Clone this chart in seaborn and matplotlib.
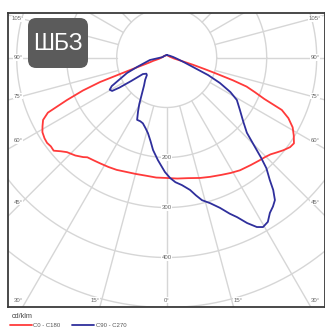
import numpy as np
import pandas as pd
import seaborn as sns
import matplotlib.pyplot as plt
from matplotlib.patches import FancyBboxPatch

# luminous intensity, cd/klm, gamma in degrees from nadir (signed)
red_gamma = [-180, -100, -90, -80, -76, -74, -72.8, -71.5, -70.5, -69.8, -68.5, -66.9, -65.1, -63.2,
             -61, -59, -56.5, -54.5, -52.5, -50.5, -48.5, -46.5, -43, -40, -38.5, -35, -32, -28, -24,
             -20, -15, -10, -5, 0, 5, 10, 15.5, 20, 25, 29, 33, 38, 42, 44.7, 47, 49, 51.5, 54, 56,
             58.5, 61, 63.5, 65.5, 67, 68.5, 70, 71, 72, 73, 74.5, 77, 82, 90, 100, 180]
red_int = [5, 8, 10, 16, 28, 35, 45, 67, 99, 142, 180, 217, 262, 277,
           284, 290, 293, 294, 292, 293, 283, 275, 268, 260, 255, 252, 250, 248, 246,
           243, 241, 240, 241, 241, 243, 245, 250, 254, 259, 264, 269, 273, 277, 280, 284, 290, 298, 305, 307,
           298, 288, 272, 253, 212, 190, 170, 140, 105, 80, 55, 30, 15, 10, 7, 5]

blue_gamma = [-180, -120, -96, -81.5, -72.3, -68.7, -64.5, -62.5, -60.5, -58.5, -57.5, -56.5, -55.2,
              -51.5, -48.4, -44, -39, -34.8, -30.5, -28, -25.4, -22.5, -19.9, -16.5, -13.9, -11, -8.4,
              -4.9, -0.9, 1.6, 4, 6.8, 10, 12, 13.9, 16.6, 19.5, 22, 23.8, 25.9, 28, 29.6, 31.6, 33.6,
              35.5, 37.2, 38.8, 40.1, 42, 43.3, 45, 46.8, 50, 54.4, 58.8, 61.5, 64.4, 67, 70.1, 75, 82,
              94.5, 120, 180]
blue_int = [5, 6, 8, 34, 62, 85, 108, 124, 131, 128, 112, 85, 58,
            52, 53, 62, 72, 86, 108, 122, 138, 138, 140, 148, 156, 170, 187,
            206, 229, 241, 250, 257, 269, 282, 294, 304, 319, 337, 349, 368, 384, 390, 386, 373,
            366, 358, 340, 320, 298, 275, 245, 220, 200, 180, 164, 145, 118, 90, 56, 35, 22,
            13, 7, 5]

series_names = ['C0 - C180', 'C90 - C270']
series_colors = ['#ff3a3a', '#2f2f9c']
ring_values = [100, 200, 300, 400, 500]
ring_labels = [200, 300, 400]
angle_labels = [105, 90, 75, 60, 45, 30, 15, 0]

sns.set_style('white')
plt.rcParams['font.family'] = ['Liberation Sans', 'DejaVu Sans']

frames = []
for name, g, val in [(series_names[0], red_gamma, red_int), (series_names[1], blue_gamma, blue_int)]:
    g = np.radians(np.array(g, dtype=float))
    val = np.array(val, dtype=float)
    frames.append(pd.DataFrame({'x': val * np.sin(g), 'y': -val * np.cos(g), 'series': name}))
df = pd.concat(frames, ignore_index=True)

W, H = 325, 329
fig = plt.figure(figsize=(W / 100, H / 100), dpi=100)
ax = fig.add_axes([8 / W, 22 / H, 316.5 / W, 294 / H])
xmin, xmax, ymin, ymax = -317.4, 315.6, -499, 89
ax.set_xlim(xmin, xmax)
ax.set_ylim(ymin, ymax)
ax.set_aspect('equal')

grid_c = '#d6d6d6'
t = np.linspace(0, 2 * np.pi, 400)
for r in ring_values:
    ax.plot(r * np.cos(t), r * np.sin(t), color=grid_c, lw=1.0, zorder=1)
for a in range(0, 360, 15):
    ar = np.radians(a)
    ax.plot([100 * np.sin(ar), 700 * np.sin(ar)], [-100 * np.cos(ar), -700 * np.cos(ar)],
            color=grid_c, lw=1.0, zorder=1)

lab_kw = dict(fontsize=4.3, color='#666666', ha='center', va='center', zorder=3,
              bbox=dict(facecolor='white', edgecolor='none', pad=0.4))
for r in ring_labels:
    ax.text(0, -r, str(r), **lab_kw)

# angle labels where the rays meet the frame
side_x = 297
bottom_y = -485
for a in angle_labels:
    ar = np.radians(a)
    for s in ([-1, 1] if a else [1]):
        dx, dy = s * np.sin(ar), -np.cos(ar)
        if dy < 0 and abs(bottom_y / dy) * abs(dx) <= side_x:
            k = bottom_y / dy
            px, py = np.clip(1.1 * k * dx, -side_x, side_x), bottom_y
        else:
            k = (side_x - 8) / abs(dx)
            px, py = s * side_x, k * dy
        ax.text(px, py, f'{a}°', **lab_kw)

sns.lineplot(data=df, x='x', y='y', hue='series', palette=series_colors, sort=False,
             estimator=None, lw=1.3, ax=ax, legend=False, zorder=4)

ax.set_xlabel('')
ax.set_ylabel('')
ax.set_xticks([])
ax.set_yticks([])
for sp in ax.spines.values():
    sp.set_color('#3a3a3a')
    sp.set_linewidth(1.3)

# badge
badge = FancyBboxPatch((28 / W, 1 - 68 / H), 60 / W, 50 / H, transform=fig.transFigure,
                       boxstyle='round,pad=0,rounding_size=0.025', facecolor='#5b5b5b',
                       edgecolor='none', zorder=10)
fig.patches.append(badge)
fig.text(58 / W, 1 - 43.5 / H, 'ШБЗ', color='white', fontsize=16.5, ha='center', va='center', zorder=11)

fig.text(12 / W, 1 - 317 / H, 'cd/klm', fontsize=5.2, color='#444444', va='center')
handles = [plt.Line2D([], [], color=c, lw=1.3) for c in series_colors]
fig.legend(handles, series_names, loc='center left', bbox_to_anchor=(10 / W, 1 - 325.5 / H),
           ncol=2, fontsize=4.3, frameon=False, handlelength=3.6, handletextpad=0.3,
           columnspacing=2.0, labelcolor='#555555', borderpad=0, borderaxespad=0)

fig.savefig('out.png', dpi=100)
